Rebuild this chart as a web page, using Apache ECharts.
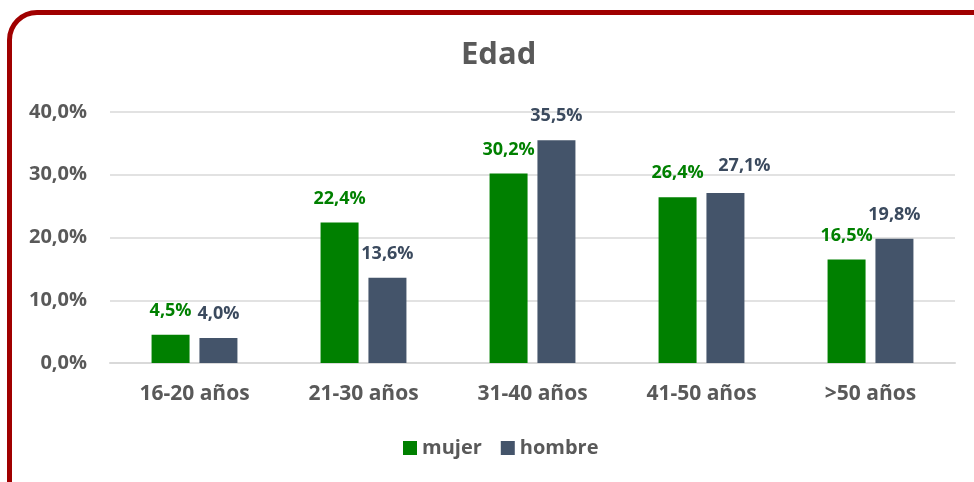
<!DOCTYPE html>
<html>
<head>
<meta charset="utf-8">
<script src="https://cdn.jsdelivr.net/npm/echarts@6/dist/echarts.min.js"></script>
<style>
  html, body { margin: 0; padding: 0; background: #fff; overflow: hidden; }
  #wrap { position: relative; width: 974px; height: 482px; }
  #chart { position: absolute; left: 0; top: 0; width: 974px; height: 482px; }
  #frame { position: absolute; left: 7px; top: 10px; width: 1000px; height: 520px;
           border: 5px solid #a00000; border-radius: 30px; box-sizing: border-box; pointer-events: none; }
</style>
</head>
<body>
<div id="wrap">
  <div id="chart"></div>
  <div id="frame"></div>
</div>
<script>
  // datos
  var categorias = ['16-20 años', '21-30 años', '31-40 años', '41-50 años', '>50 años'];
  var mujer = [4.5, 22.4, 30.2, 26.4, 16.5];
  var hombre = [4.0, 13.6, 35.5, 27.1, 19.8];

  var fuente = '"Open Sans", "Liberation Sans", sans-serif';
  function pct(v) { return v.toFixed(1).replace('.', ',') + '%'; }

  // la etiqueta 27,1% esta desplazada a la derecha en el original
  var hombreData = hombre.map(function (v, i) {
    if (i === 3) return { value: v, label: { offset: [19, -3] } };
    return v;
  });

  var myChart = echarts.init(document.getElementById('chart'));
  myChart.setOption({
    animation: false,
    title: {
      text: 'Edad',
      left: 456,
      top: 35,
      textStyle: { fontFamily: fuente, fontWeight: 'bold', fontSize: 31, color: '#595959' }
    },
    legend: {
      top: 433,
      left: 398,
      itemWidth: 14,
      itemHeight: 14,
      itemGap: 19,
      icon: 'rect',
      textStyle: { fontFamily: fuente, fontWeight: 'bold', fontSize: 20, color: '#595959' },
      data: ['mujer', 'hombre']
    },
    grid: { left: 110, right: 19, top: 112, bottom: 119 },
    xAxis: {
      type: 'category',
      data: categorias,
      axisLine: { lineStyle: { color: '#d9d9d9', width: 2 } },
      axisTick: { show: false },
      axisLabel: { margin: 21, fontFamily: fuente, fontWeight: 'bold', fontSize: 21, color: '#595959' }
    },
    yAxis: {
      type: 'value',
      min: 0,
      max: 40,
      interval: 10,
      axisLine: { show: false },
      axisTick: { show: false },
      splitLine: { lineStyle: { color: '#d9d9d9', width: 1.5 } },
      axisLabel: {
        margin: 23,
        fontFamily: fuente, fontWeight: 'bold', fontSize: 20, color: '#595959',
        formatter: function (v) { return pct(v); }
      }
    },
    series: [
      {
        name: 'mujer',
        type: 'bar',
        data: mujer,
        barWidth: 38,
        barGap: '26%',
        itemStyle: { color: '#008000' },
        label: {
          show: true, position: 'top', distance: 15,
          fontFamily: fuente, fontWeight: 'bold', fontSize: 18, color: '#008000',
          formatter: function (p) { return pct(p.value); }
        }
      },
      {
        name: 'hombre',
        type: 'bar',
        data: hombreData,
        barWidth: 38,
        itemStyle: { color: '#44546A' },
        label: {
          show: true, position: 'top', distance: 15,
          fontFamily: fuente, fontWeight: 'bold', fontSize: 18, color: '#3B4A5E',
          formatter: function (p) { return pct(p.value); }
        }
      }
    ]
  });
</script>
</body>
</html>
